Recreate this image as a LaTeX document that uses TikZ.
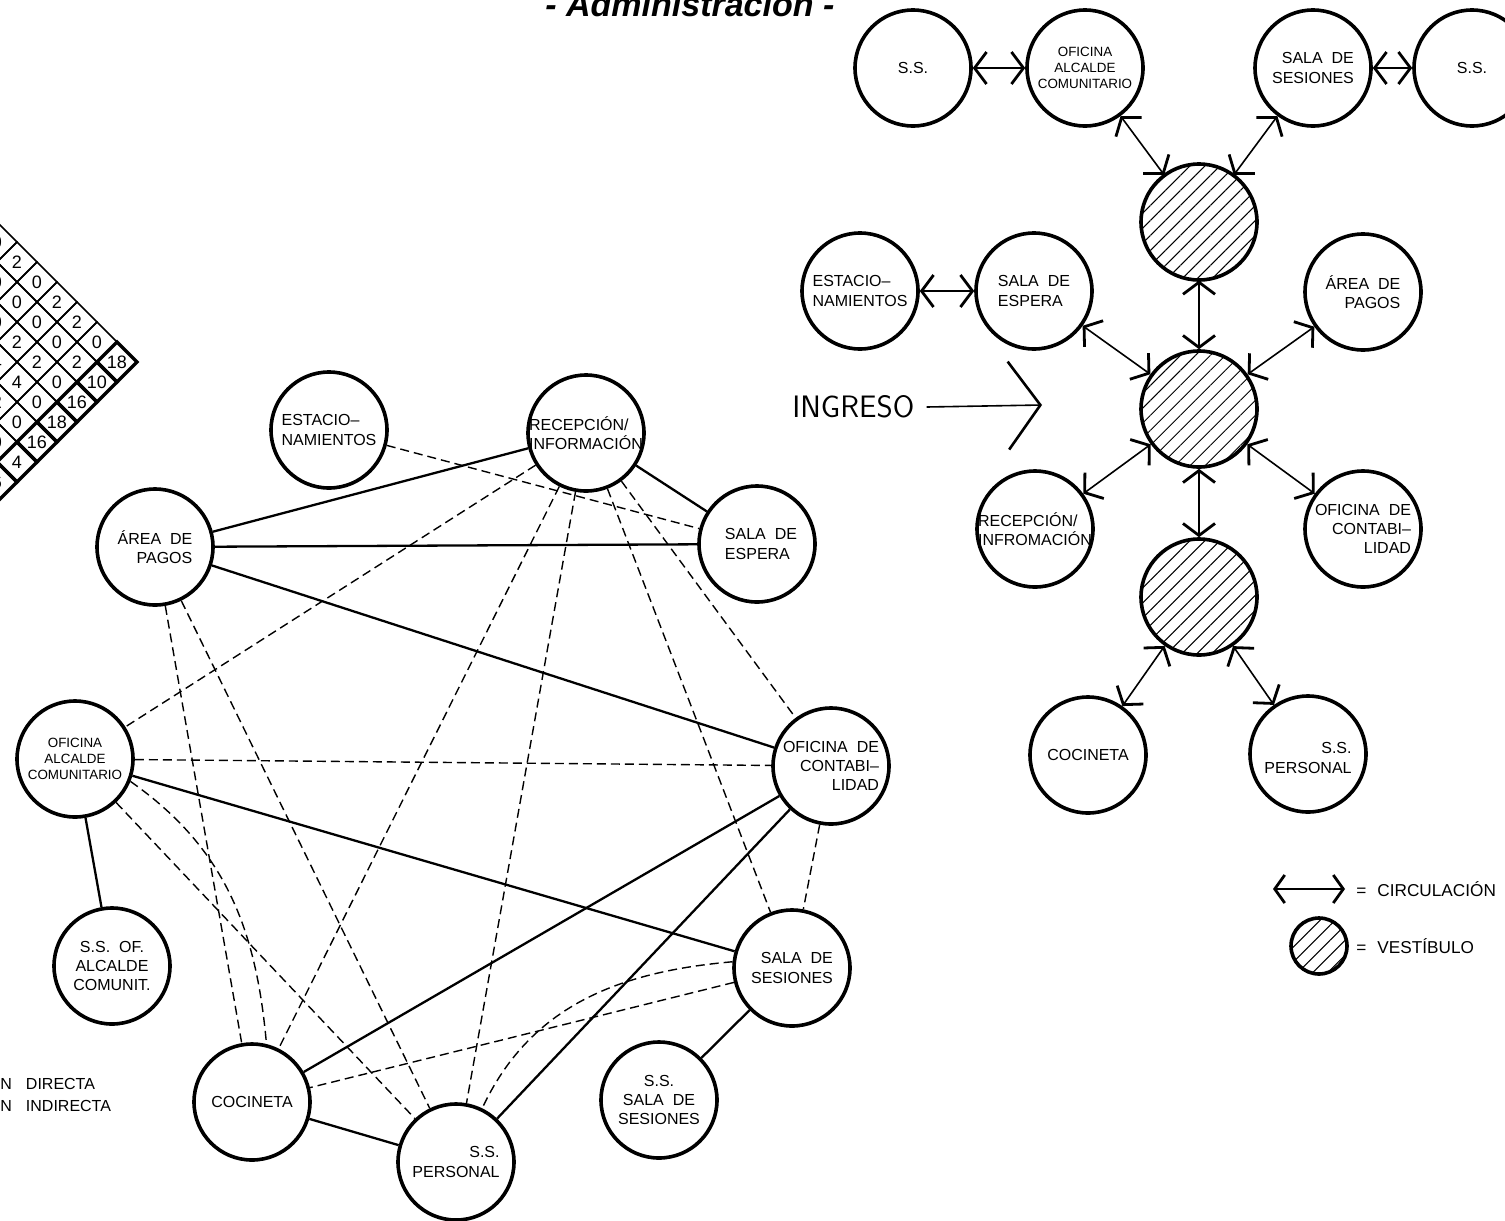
\documentclass[tikz,border=0pt]{standalone}
\usepackage{fontspec}
\setmainfont{Liberation Sans}
\usetikzlibrary{arrows.meta,patterns.meta}

\tikzset{
  room/.style={circle,draw,line width=1.8pt,minimum size=58pt,inner sep=0pt},
  vest/.style={room,pattern={Lines[angle=45,distance=5.3pt,line width=0.5pt]}},
  lab/.style={inner sep=0pt,font=\fontsize{8}{9.6}\selectfont},
  labs/.style={inner sep=0pt,font=\fontsize{6.7}{8}\selectfont,align=center},
  labl/.style={inner sep=0pt,font=\fontsize{8.6}{10}\selectfont},
  direct/.style={line width=1.15pt},
  indirect/.style={line width=0.7pt,dash pattern=on 4.5pt off 2.5pt},
  cbarb/.tip={Straight Barb[length=6pt,width=16pt,line width=1.4pt]},
  lbarb/.tip={Straight Barb[length=5pt,width=14pt,line width=1.4pt]},
  circul/.style={line width=0.8pt,cbarb-cbarb},
  cell/.style={line width=0.85pt},
  cellbold/.style={line width=1.7pt},
  digit/.style={inner sep=0pt,font=\fontsize{9}{9}\selectfont},
}

\begin{document}
\begin{tikzpicture}[x=0.5pt,y=0.5pt]
  \useasboundingbox (0,0) rectangle (1505,-1221);
  \clip (0,0) rectangle (1505,-1221);

  \node[anchor=base west,inner sep=0pt,font=\bfseries\itshape\fontsize{17}{17}\selectfont]
    (titulo) at (545,-16) {- Administración -};

  % matriz
  \foreach \i/\j/\v in {1/0/0,2/0/2,3/0/2,4/0/0,5/0/2,6/0/0,
      1/1/2,2/1/0,3/1/0,4/1/0,5/1/0,
      1/2/0,2/2/2,3/2/2,4/2/0,
      1/3/0,2/3/4,3/3/4,
      1/4/0,2/4/2,
      1/5/0}{
    \draw[cell] ({137-20*(\i+\j)},{20*\i-20*\j-362}) -- ++(-20,20) -- ++(-20,-20) -- ++(20,-20) -- cycle;
    \node[digit] (m\i\j) at ({117-20*(\i+\j)},{20*\i-20*\j-362}) {\v};
  }
  \foreach \j/\v in {0/18,1/10,2/16,3/18,4/16,5/4,6/6}{
    \draw[cellbold] ({137-20*\j},{-20*\j-362}) -- ++(-20,20) -- ++(-20,-20) -- ++(20,-20) -- cycle;
    \node[digit] (t\j) at ({117-20*\j},{-20*\j-362}) {\v};
  }

  % grafo de relaciones
  \node[room,label={[lab,align=left]center:ESTACIO\textendash\\NAMIENTOS}] (estac_l) at (329,-430) {};
  \node[room,label={[lab,align=left]center:RECEPCIÓN/\\INFORMACIÓN}] (recep_l) at (586,-433) {};
  \node[room,label={[lab,align=right]center:ÁREA\ \ DE\\PAGOS}] (pagos_l) at (155,-547) {};
  \node[room,label={[lab,align=left,xshift=2pt]center:SALA\ \ DE\\ESPERA}] (espera_l) at (757,-544) {};
  \node[room,label={[labs]center:OFICINA\\ALCALDE\\COMUNITARIO}] (alcalde_l) at (75,-759) {};
  \node[room,label={[lab,align=right]center:OFICINA\ \ DE\\CONTABI\textendash\\LIDAD}] (conta_l) at (831,-766) {};
  \node[room,label={[lab,align=right]center:SALA\ \ DE\\SESIONES}] (sesiones_l) at (792,-968) {};
  \node[room,label={[lab,align=center]center:S.S.\ \ OF.\\ALCALDE\\COMUNIT.}] (ssalc_l) at (112,-966) {};
  \node[room,label={[lab]center:COCINETA}] (coc_l) at (252,-1102) {};
  \node[room,label={[lab,align=center]center:S.S.\\SALA\ \ DE\\SESIONES}] (ssses_l) at (659,-1100) {};
  \node[room,label={[lab,align=right]center:S.S.\\PERSONAL}] (per_l) at (456,-1162) {};

  \draw[direct] (pagos_l) -- (recep_l);
  \draw[direct] (pagos_l) -- (espera_l);
  \draw[direct] (recep_l) -- (espera_l);
  \draw[direct] (pagos_l) -- (conta_l);
  \draw[direct] (alcalde_l) -- (sesiones_l);
  \draw[direct] (alcalde_l) -- (ssalc_l);
  \draw[direct] (coc_l) -- (conta_l);
  \draw[direct] (per_l) -- (conta_l);
  \draw[direct] (coc_l) -- (per_l);
  \draw[direct] (sesiones_l) -- (ssses_l);

  \draw[indirect] (estac_l) -- (espera_l);
  \draw[indirect] (recep_l) -- (alcalde_l);
  \draw[indirect] (recep_l) -- (coc_l);
  \draw[indirect] (recep_l) -- (per_l);
  \draw[indirect] (recep_l) -- (sesiones_l);
  \draw[indirect] (recep_l) -- (conta_l);
  \draw[indirect] (pagos_l) -- (coc_l);
  \draw[indirect] (pagos_l) -- (per_l);
  \draw[indirect] (alcalde_l) -- (conta_l);
  \draw[indirect] (alcalde_l) -- (per_l);
  \draw[indirect] (conta_l) -- (sesiones_l);
  \draw[indirect] (sesiones_l) -- (coc_l);
  \draw[indirect] (alcalde_l.-22) to[out=-35,in=95] (coc_l.76);
  \draw[indirect] (sesiones_l.174) to[out=185,in=65] (per_l.64);

  \node[lab,anchor=west] (rel_d) at (0,-1084) {N\hspace{7pt}DIRECTA};
  \node[lab,anchor=west] (rel_i) at (0,-1106) {N\hspace{7pt}INDIRECTA};

  % diagrama de circulacion
  \node[room,label={[lab]center:S.S.}] (ss_a) at (913,-68) {};
  \node[room,label={[labs]center:OFICINA\\ALCALDE\\COMUNITARIO}] (ofi_a) at (1085,-68) {};
  \node[room,label={[lab,align=right]center:SALA\ \ DE\\SESIONES}] (sala_s) at (1313,-68) {};
  \node[room,label={[lab]center:S.S.}] (ss_b) at (1472,-68) {};
  \node[vest] (v1) at (1199,-222) {};
  \node[room,label={[lab,align=left]center:ESTACIO\textendash\\NAMIENTOS}] (estac_r) at (860,-291) {};
  \node[room,label={[lab,align=left]center:SALA\ \ DE\\ESPERA}] (espera_r) at (1034,-291) {};
  \node[room,label={[lab,align=right]center:ÁREA\ \ DE\\PAGOS}] (pagos_r) at (1363,-292) {};
  \node[vest] (v2) at (1199,-409) {};
  \node[room,label={[lab,align=left]center:RECEPCIÓN/\\INFROMACIÓN}] (recep_r) at (1035,-529) {};
  \node[room,label={[lab,align=right]center:OFICINA\ \ DE\\CONTABI\textendash\\LIDAD}] (conta_r) at (1363,-529) {};
  \node[vest] (v3) at (1199,-597) {};
  \node[room,label={[lab]center:COCINETA}] (coc_r) at (1088,-755) {};
  \node[room,label={[lab,align=right,yshift=-2pt]center:S.S.\\PERSONAL}] (per_r) at (1308,-754) {};

  \draw[circul] (ss_a) -- (ofi_a);
  \draw[circul] (sala_s) -- (ss_b);
  \draw[circul] (ofi_a) -- (v1);
  \draw[circul] (sala_s) -- (v1);
  \draw[circul] (v1) -- (v2);
  \draw[circul] (estac_r) -- (espera_r);
  \draw[circul] (espera_r) -- (v2);
  \draw[circul] (pagos_r) -- (v2);
  \draw[circul] (recep_r) -- (v2);
  \draw[circul] (conta_r) -- (v2);
  \draw[circul] (v2) -- (v3);
  \draw[circul] (coc_r) -- (v3);
  \draw[circul] (per_r) -- (v3);

  \node[inner sep=0pt,anchor=west,font=\sffamily\fontsize{15.5}{15.5}\selectfont] (ingreso) at (792,-407) {INGRESO};
  \coordinate (ingreso_tip) at (1042,-405);
  \draw[line width=0.8pt,-{Straight Barb[length=16pt,width=44pt,line width=1.3pt]}]
    ([xshift=6pt]ingreso.east) -- (ingreso_tip);

  % leyenda
  \coordinate (lg_a) at (1273,-889);
  \coordinate (lg_b) at (1345,-889);
  \draw[line width=0.8pt,lbarb-lbarb] (lg_a) -- (lg_b);
  \node[labl,anchor=west] (lg_circ) at (1356,-889) {=\hspace{5.5pt}CIRCULACIÓN};
  \node[vest,minimum size=28pt] (lg_v) at (1319,-946) {};
  \node[labl,anchor=west] (lg_vest) at (1356,-946) {=\hspace{5.5pt}VESTÍBULO};
\end{tikzpicture}
\end{document}
